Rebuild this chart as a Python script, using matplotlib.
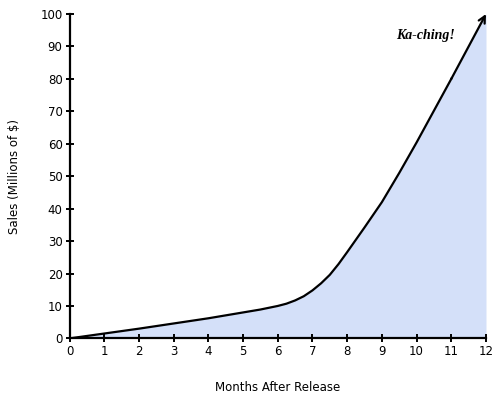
import matplotlib.pyplot as plt
import numpy as np

# months after release and sales
months = [0, 1, 2, 3, 4, 5, 5.5, 6, 6.25, 6.5, 6.75, 7, 7.25, 7.5, 7.75, 8, 8.5, 9, 9.5, 10, 11, 12]
sales = [0, 1.5, 3.0, 4.6, 6.2, 8.0, 8.9, 10.0, 10.7, 11.7, 13.0, 14.8, 17.0, 19.6, 22.9,
         26.6, 34.2, 42.0, 51.0, 60.4, 80.0, 100.0]
xticks = list(range(0, 13))
yticks = list(range(0, 101, 10))

fig = plt.figure(figsize=(5, 4), dpi=100)
ax = fig.add_axes([0.139, 0.154, 0.833, 0.811])

ax.fill_between(months, sales, 0, color='#d4e0f9', lw=0)
ax.plot(months[:-1], sales[:-1], color='black', lw=1.6, solid_joinstyle='round')
ax.annotate('', xy=(months[-1], sales[-1]), xytext=(months[-2], sales[-2]),
            arrowprops=dict(arrowstyle='->', color='black', lw=1.6,
                            shrinkA=0, shrinkB=0, mutation_scale=12),
            annotation_clip=False)

ax.text(10.25, 93.5, 'Ka-ching!', family='Liberation Serif', style='italic',
        weight='bold', size=10, ha='center', va='center')

ax.set_xlim(0, 12)
ax.set_ylim(0, 100)
ax.set_xticks(xticks)
ax.set_yticks(yticks)
for s in ['top', 'right']:
    ax.spines[s].set_visible(False)
for s in ['left', 'bottom']:
    ax.spines[s].set_linewidth(1.6)
ax.tick_params(direction='inout', length=6, width=1.4, labelsize=8.5, pad=2)

ax.set_xlabel('Months After Release', fontsize=8.5, labelpad=16)
ax.set_ylabel('Sales (Millions of $)', fontsize=8.5, labelpad=14)

fig.savefig('out.png', dpi=100)
